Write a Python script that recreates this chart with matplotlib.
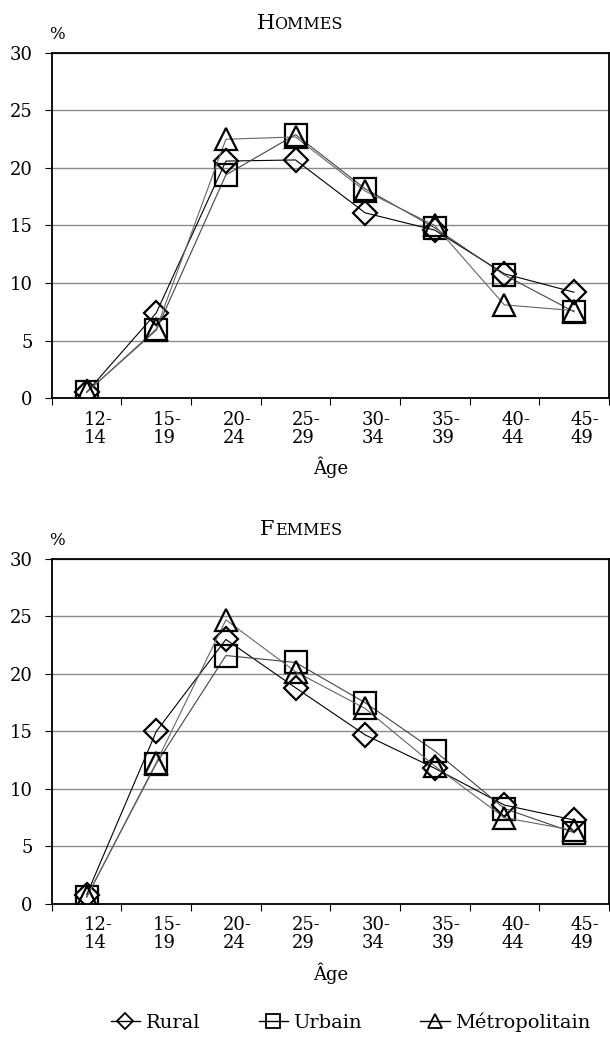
import numpy as np
import matplotlib.pyplot as plt
import matplotlib.transforms as mtransforms
from matplotlib.lines import Line2D

plt.rcParams['font.family'] = ['DejaVu Serif']

# age groups
ages = ['12-\n14', '15-\n19', '20-\n24', '25-\n29', '30-\n34', '35-\n39', '40-\n44', '45-\n49']

# HOMMES (%)
h_rural = [0.5, 7.4, 20.6, 20.7, 16.1, 14.6, 10.8, 9.2]
h_urbain = [0.5, 5.9, 19.4, 22.9, 18.2, 14.8, 10.7, 7.5]
h_metro = [0.5, 6.0, 22.5, 22.7, 18.0, 15.0, 8.1, 7.6]

# FEMMES (%)
f_rural = [0.8, 15.0, 23.0, 18.8, 14.7, 11.8, 8.6, 7.3]
f_urbain = [0.6, 12.2, 21.6, 21.0, 17.5, 13.3, 8.3, 6.2]
f_metro = [0.6, 12.3, 24.7, 20.2, 17.0, 12.0, 7.5, 6.4]

names = ['Rural', 'Urbain', 'Métropolitain']
markers = ['D', 's', '^']
msizes = [12, 15.5, 15.5]
lcolors = ['black', '#444444', '#666666']

fig = plt.figure(figsize=(6.10, 10.43), dpi=100)
ax1 = fig.add_axes([0.085, 0.6184, 0.913, 0.3308])
ax2 = fig.add_axes([0.085, 0.1333, 0.913, 0.3308])


def draw(ax, series, big, small):
    x = np.arange(len(ages))
    for vals, m, ms, c in zip(series, markers, msizes, lcolors):
        ax.plot(x, vals, color=c, lw=0.8, marker=m, ms=ms,
                mfc='none', mec='black', mew=1.6, zorder=3)
    ax.set_xlim(-0.5, 7.5)
    ax.set_ylim(0, 30)
    ax.set_yticks([0, 5, 10, 15, 20, 25, 30])
    ax.tick_params(axis='y', direction='out', length=5, width=0.8,
                   labelsize=13, pad=9)
    ax.set_xticks(x)
    ax.set_xticklabels(ages, fontsize=13, linespacing=1.0,
                       multialignment='left')
    ax.tick_params(axis='x', which='major', length=0, pad=9)
    # labels sit a little right of the category centre
    shift = mtransforms.ScaledTranslation(8 / 72, 0, fig.dpi_scale_trans)
    for lab in ax.get_xticklabels():
        lab.set_transform(lab.get_transform() + shift)
    ax.set_xticks(np.arange(-0.5, 8, 1), minor=True)
    ax.tick_params(axis='x', which='minor', direction='out', length=5, width=0.8)
    ax.grid(axis='y', color='#8a8a8a', lw=1.0)
    ax.set_axisbelow(True)
    for s in ax.spines.values():
        s.set_linewidth(1.3)
        s.set_color('black')
    ax.set_xlabel('Âge', fontsize=13, labelpad=7)
    # small caps title
    ax.annotate(big, xy=(0.40, 1), xycoords='axes fraction', xytext=(0, 17),
                textcoords='offset points', ha='right', va='baseline', fontsize=15)
    ax.annotate(small, xy=(0.40, 1), xycoords='axes fraction', xytext=(0, 17),
                textcoords='offset points', ha='left', va='baseline', fontsize=11.5)
    ax.annotate('%', xy=(0, 1), xycoords='axes fraction', xytext=(-2, 7),
                textcoords='offset points', ha='left', va='bottom', fontsize=12)


draw(ax1, [h_rural, h_urbain, h_metro], 'H', 'OMMES')
draw(ax2, [f_rural, f_urbain, f_metro], 'F', 'EMMES')

handles = [Line2D([], [], color='black', lw=1.0, marker=m, ms=ms * 0.65,
                  mfc='none', mec='black', mew=1.3)
           for m, ms in zip(markers, msizes)]
fig.legend(handles, names, loc='center', bbox_to_anchor=(0.575, 1 - 1022 / 1043),
           ncol=3, frameon=False, fontsize=14, handlelength=1.5,
           handletextpad=0.3, columnspacing=3.0)

fig.savefig('out.png', dpi=100)
